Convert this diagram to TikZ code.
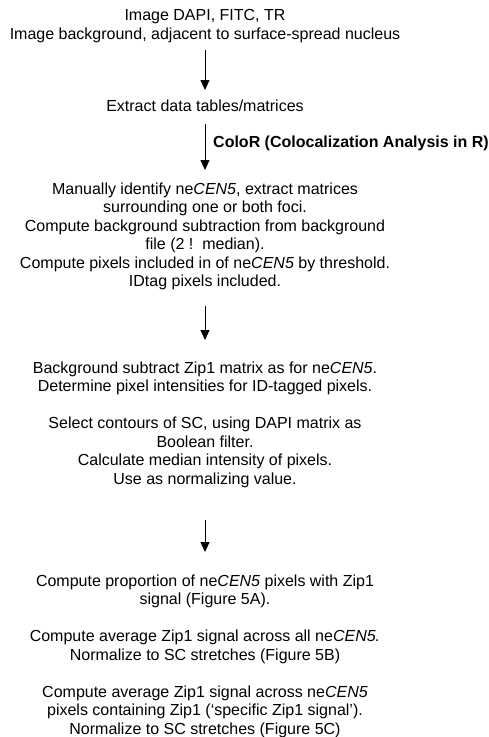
\documentclass[tikz,border=0pt]{standalone}
\usepackage{fontspec}
\setmainfont{Liberation Sans}
\usetikzlibrary{arrows.meta}
\tikzset{
  txt/.style={align=center, inner sep=0pt, anchor=north,
    font=\fontsize{16pt}{18.5pt}\selectfont},
  lbl/.style={anchor=west, inner sep=0pt, font=\fontsize{16pt}{18.5pt}\selectfont\bfseries},
  arr/.style={line width=0.9pt, draw=black, -{Triangle[length=10pt,width=9pt]}}
}
\begin{document}
\begin{tikzpicture}[x=1pt,y=1pt]
\useasboundingbox (0,0) rectangle (488,-737);
\node[txt] (n1) at (205,-9.5) {Image DAPI, FITC, TR\\Image background, adjacent to surface-spread nucleus};
\node[txt] (n2) at (205,-99.5) {Extract data tables/matrices};
\node[txt] (n3) at (205,-182.5) {Manually identify ne\textit{CEN5}, extract matrices\\
surrounding one or both foci.\\
Compute background subtraction from background\\
file (2 !\ \ median).\\
Compute pixels included in of ne\textit{CEN5} by threshold.\\
IDtag pixels included.};
\node[txt] (n4) at (205,-361.5) {Background subtract Zip1 matrix as for ne\textit{CEN5}.\\
Determine pixel intensities for ID-tagged pixels.\\[18.5pt]
Select contours of SC, using DAPI matrix as\\
Boolean filter.\\
Calculate median intensity of pixels.\\
Use as normalizing value.};
\node[txt] (n5) at (205,-574.5) {Compute proportion of ne\textit{CEN5} pixels with Zip1\\
signal (Figure 5A).\\[18.5pt]
Compute average Zip1 signal across all ne\textit{CEN5.}\\
Normalize to SC stretches (Figure 5B)\\[18.5pt]
Compute average Zip1 signal across ne\textit{CEN5}\\
pixels containing Zip1 (`specific Zip1 signal').\\
Normalize to SC stretches (Figure 5C)};
\draw[arr] ([yshift=-7.6pt]n1.south) -- ([yshift=9.5pt]n2.north);
\draw[arr] ([yshift=-12pt]n2.south) -- ([yshift=12.5pt]n3.north) coordinate[pos=0.43] (m2);
\node[lbl] (l2) at ([xshift=8pt]m2) {ColoR (Colocalization Analysis in R)};
\draw[arr] ([yshift=-15.6pt]n3.south) -- ([yshift=21.5pt]n4.north);
\draw[arr] ([yshift=-32.6pt]n4.south) -- ([yshift=22.5pt]n5.north);
\end{tikzpicture}
\end{document}
